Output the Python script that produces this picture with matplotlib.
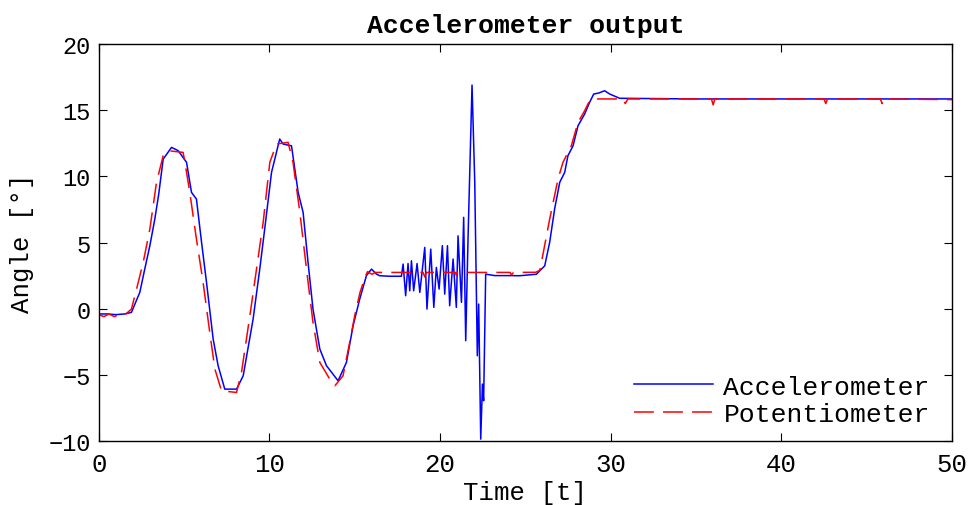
import numpy as np
import matplotlib
matplotlib.use("Agg")
import matplotlib.pyplot as plt

# accelerometer angle
acc_t = [0, 0.5, 1.0, 1.5, 1.91, 2.40, 2.69, 2.99, 3.28, 3.51, 3.77, 4.26, 4.65, 5.14, 5.43,
         5.72, 6.02, 6.31, 6.70, 6.99, 7.38, 8.07, 8.46, 9.04, 9.43, 9.72, 10.12, 10.60, 10.80,
         11.29, 11.68, 11.97, 12.26, 12.55, 12.95, 13.34, 14.02, 14.51, 14.90, 15.29, 15.68,
         15.98, 16.27, 16.46, 17.05, 17.73,
         17.83, 17.98, 18.12, 18.22, 18.32, 18.45, 18.65, 18.81, 19.10, 19.23, 19.45, 19.63,
         19.78, 19.94, 20.13, 20.27, 20.43, 20.56, 20.76, 20.95, 21.05, 21.25, 21.38, 21.50,
         21.64, 21.87, 22.03, 22.18, 22.26, 22.38, 22.48, 22.55, 22.67,
         23.2, 24.0, 24.66, 25.64, 25.84, 26.13, 26.42, 26.71, 27.01, 27.30, 27.49, 27.79,
         28.08, 28.47, 28.76, 29.00, 29.30, 29.64, 29.94, 30.52, 35.0, 40.0, 45.0, 50.0]
acc_v = [-0.4, -0.4, -0.45, -0.4, -0.28, 1.23, 2.99, 4.76, 6.77, 8.66, 11.3, 12.19, 11.94,
         11.06, 8.79, 8.28, 5.01, 1.99, -2.30, -4.31, -6.08, -6.08, -5.07, -0.79, 2.99, 6.02,
         10.3, 12.82, 12.44, 12.31, 8.79, 7.28, 3.50, -0.03, -3.05, -4.31, -5.45, -4.06, -1.29,
         0.73, 2.49, 2.99, 2.61, 2.49, 2.45, 2.45,
         3.37, 0.98, 3.41, 1.35, 3.62, 1.35, 3.41, 1.23, 4.63, -0.03, 4.50, 0.10,
         3.12, 1.48, 4.76, 1.10, 4.76, 0.22, 3.75, 0.10, 5.51, 0.48, 6.90, -2.42,
         5.51, 16.9, 9.55, -3.56, 0.35, -9.86, -5.70, -6.96, 2.61,
         2.5, 2.5, 2.49, 2.6, 2.86, 3.24, 5.01, 7.53, 9.55, 10.30, 11.56, 12.31,
         13.82, 14.71, 15.59, 16.22, 16.3, 16.47, 16.22, 15.9, 15.85, 15.85, 15.85, 15.85]

# potentiometer angle
pot_t = [0, 0.3, 0.6, 0.9, 1.2, 1.5, 1.91, 2.21, 2.60, 2.99, 3.38, 3.77, 4.06, 4.94, 5.14,
         5.33, 5.72, 6.11, 6.50, 6.80, 7.19, 8.07, 8.36, 8.85, 9.24, 9.63, 10.02, 10.41, 11.09,
         11.38, 11.78, 12.17, 12.55, 12.95, 13.53, 13.83, 14.31, 14.70, 15.0, 15.3, 15.6,
         15.75, 16.0, 16.2, 19.0, 19.1, 19.2, 20.9, 20.95, 21.0, 24.1, 24.18, 24.3, 25.6,
         25.84, 26.03, 26.42, 26.91, 27.20, 27.69, 28.08, 28.47, 28.76, 29.25, 30.7, 30.85,
         31.0, 35.9, 36.0, 36.1, 42.5, 42.6, 42.7, 45.8, 45.9, 46.0, 50.0]
pot_v = [-0.45, -0.6, -0.4, -0.6, -0.45, -0.5, -0.03, 1.48, 3.50, 6.02, 9.55, 11.56, 11.94,
         11.81, 10.30, 8.79, 5.26, 1.99, -1.79, -4.56, -6.21, -6.33, -4.81, -0.54, 2.99, 6.52,
         11.06, 12.44, 12.57, 11.06, 7.28, 2.99, -1.04, -4.06, -5.32, -5.83, -5.07, -2.55,
         -0.5, 1.2, 2.4, 2.8, 2.6, 2.74, 2.74, 2.4, 2.74, 2.74, 2.5, 2.74, 2.74, 2.55, 2.74,
         2.75, 2.9, 4.13, 6.77, 9.80, 11.06, 12.31, 14.08, 14.96, 15.72, 15.85, 15.85, 15.5,
         15.85, 15.85, 15.4, 15.85, 15.85, 15.5, 15.85, 15.85, 15.5, 15.85, 15.8]

plt.rcParams['font.family'] = ['Liberation Mono', 'DejaVu Sans Mono']
plt.rcParams['font.size'] = 18.5

fig = plt.figure(figsize=(9.69, 5.06), dpi=100)
ax = fig.add_axes([0.102, 0.1265, 0.8805, 0.7845])

ax.plot(acc_t, acc_v, color='#0000ff', lw=1.1, label='Accelerometer')
ax.plot(pot_t, pot_v, color='#ff0000', lw=1.1, dashes=(13, 6), label='Potentiometer')

ax.set_xlim(0, 50)
ax.set_ylim(-10, 20)
ax.set_xticks(np.arange(0, 51, 10))
ax.set_yticks(np.arange(-10, 21, 5))
ax.tick_params(direction='in', top=True, right=True, length=6, width=0.8)
ax.tick_params(axis='x', labelsize=18.5, pad=8)
ax.tick_params(axis='y', labelsize=17, pad=6)
for s in ax.spines.values():
    s.set_linewidth(1.0)

ax.set_title('Accelerometer output', fontweight='bold', fontsize=19, pad=9)
ax.set_xlabel('Time [t]', labelpad=3)
ax.set_ylabel('Angle [°]', labelpad=10)

ax.legend(loc='lower right', bbox_to_anchor=(0.991, 0.0), frameon=False,
          handlelength=3.0, handletextpad=0.4, labelspacing=0.15,
          borderaxespad=0.15, fontsize=19)

fig.savefig('out.png', dpi=100)
